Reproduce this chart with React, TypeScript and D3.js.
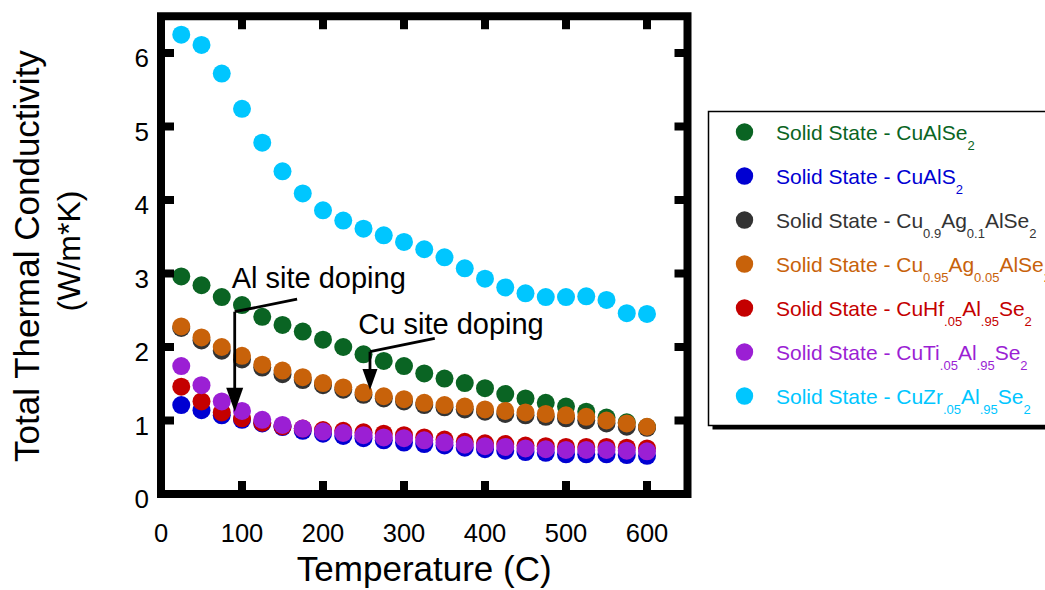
import React, { useEffect } from "react";
import * as d3 from "d3";

// Temperature (C) of each measurement
const temps = [25, 50, 75, 100, 125, 150, 175, 200, 225, 250, 275, 300, 325, 350, 375, 400, 425, 450, 475, 500, 525, 550, 575, 600];

// Total thermal conductivity (W/m*K) per sample
const cuAlSe2 = [2.96, 2.84, 2.68, 2.57, 2.41, 2.30, 2.21, 2.10, 2.00, 1.90, 1.81, 1.74, 1.64, 1.57, 1.51, 1.44, 1.36, 1.30, 1.24, 1.19, 1.12, 1.04, 0.975, 0.91];
const cuAlS2 = [1.21, 1.14, 1.07, 1.01, 0.96, 0.91, 0.86, 0.82, 0.79, 0.76, 0.73, 0.70, 0.68, 0.66, 0.63, 0.61, 0.59, 0.57, 0.56, 0.54, 0.54, 0.54, 0.53, 0.52];
const cu09Ag01 = [2.26, 2.09, 1.95, 1.83, 1.72, 1.63, 1.55, 1.48, 1.42, 1.35, 1.30, 1.26, 1.21, 1.18, 1.15, 1.12, 1.09, 1.07, 1.05, 1.03, 1.00, 0.96, 0.915, 0.90];
const cu095Ag005 = [2.28, 2.13, 2.00, 1.88, 1.76, 1.68, 1.59, 1.51, 1.45, 1.38, 1.33, 1.29, 1.24, 1.21, 1.19, 1.15, 1.13, 1.11, 1.09, 1.07, 1.05, 1.00, 0.96, 0.915];
const cuHf = [1.46, 1.26, 1.11, 1.03, 0.97, 0.92, 0.89, 0.87, 0.86, 0.84, 0.82, 0.80, 0.77, 0.74, 0.71, 0.69, 0.68, 0.66, 0.65, 0.64, 0.64, 0.64, 0.63, 0.62];
const cuTi = [1.74, 1.48, 1.26, 1.13, 1.01, 0.94, 0.89, 0.85, 0.83, 0.80, 0.77, 0.76, 0.73, 0.70, 0.67, 0.65, 0.64, 0.62, 0.61, 0.60, 0.60, 0.60, 0.59, 0.58];
const cuZr = [6.25, 6.11, 5.72, 5.24, 4.78, 4.39, 4.09, 3.86, 3.72, 3.61, 3.52, 3.43, 3.33, 3.22, 3.07, 2.93, 2.81, 2.73, 2.68, 2.68, 2.69, 2.64, 2.46, 2.45];

// Legend labels; _{...} marks a subscript
const seriesLabels = [
  "Solid State - CuAlSe_{2}",
  "Solid State - CuAlS_{2}",
  "Solid State - Cu_{0.9}Ag_{0.1}AlSe_{2}",
  "Solid State - Cu_{0.95}Ag_{0.05}AlSe_{2}",
  "Solid State - CuHf_{.05}Al_{.95}Se_{2}",
  "Solid State - CuTi_{.05}Al_{.95}Se_{2}",
  "Solid State - CuZr_{.05}Al_{.95}Se_{2}",
];
const seriesColors = ["#0a6423", "#0000d2", "#333333", "#c8620a", "#c40000", "#9b1fd4", "#00c6ff"];
const seriesValues = [cuAlSe2, cuAlS2, cu09Ag01, cu095Ag005, cuHf, cuTi, cuZr];

const xTicks = [0, 100, 200, 300, 400, 500, 600];
const yTicks = [0, 1, 2, 3, 4, 5, 6];

const FONT = "'Liberation Sans', Arial, Helvetica, sans-serif";

function parseLabel(label: string) {
  const parts: { text: string; sub: boolean }[] = [];
  const re = /_\{([^}]*)\}/g;
  let last = 0;
  let m: RegExpExecArray | null;
  while ((m = re.exec(label))) {
    if (m.index > last) parts.push({ text: label.slice(last, m.index), sub: false });
    parts.push({ text: m[1], sub: true });
    last = re.lastIndex;
  }
  if (last < label.length) parts.push({ text: label.slice(last), sub: false });
  return parts;
}

export default function App() {
  useEffect(() => {
    document.body.style.margin = "0";
  }, []);

  const W = 1045;
  const H = 590;
  const x = d3.scaleLinear().domain([0, 650]).range([161, 687.5]);
  const y = d3.scaleLinear().domain([0, 6.5]).range([494, 16.25]);
  const [x0, x1] = x.range();
  const [y0, y1] = y.range();
  const tickLen = 13;
  const tickW = 8;
  const r = 9;

  const arrowHead = (tx: number, ty: number, hw: number, hh: number) =>
    `${tx - hw},${ty - hh} ${tx + hw},${ty - hh} ${tx},${ty}`;

  // annotation arrows in data units
  const alArrow = [
    [168, 2.65],
    [91, 2.48],
    [91, 1.12],
  ];
  const cuArrow = [
    [338, 2.118],
    [258, 1.936],
    [258, 1.415],
  ];
  const line = d3
    .line<number[]>()
    .x((d) => x(d[0]))
    .y((d) => y(d[1]));

  const legendX = 708.5;
  const legendY = 111.5;
  const legendW = 345;
  const legendH = 314;
  const rowY0 = 132;
  const rowStep = 44;

  return (
    <svg
      width={W}
      height={H}
      viewBox={`0 0 ${W} ${H}`}
      style={{ position: "absolute", left: 0, top: 0, background: "#fff" }}
      fontFamily={FONT}
    >
      <rect x={0} y={0} width={W} height={H} fill="#fff" />

      {/* data points */}
      {seriesValues.map((vals, si) => (
        <g key={si} fill={seriesColors[si]}>
          {vals.map((v, i) => (
            <circle key={i} cx={x(temps[i])} cy={y(v)} r={r} />
          ))}
        </g>
      ))}

      {/* annotations */}
      <g stroke="#000" strokeWidth={2.8} fill="none">
        <path d={line(alArrow.slice(0, 2))!} />
        <path d={line([alArrow[1], [alArrow[2][0], alArrow[2][1] + 0.3]])!} />
        <path d={line(cuArrow.slice(0, 2))!} />
        <path d={line([cuArrow[1], [cuArrow[2][0], cuArrow[2][1] + 0.28]])!} />
      </g>
      <polygon points={arrowHead(x(alArrow[2][0]), y(alArrow[2][1]), 8.5, 24)} fill="#000" />
      <polygon points={arrowHead(x(cuArrow[2][0]), y(cuArrow[2][1]), 7.5, 21)} fill="#000" />
      <text x={x(87.3)} y={y(2.8)} fontSize={29} fill="#000">Al site doping</text>
      <text x={x(243.6)} y={y(2.177)} fontSize={29} fill="#000">Cu site doping</text>

      {/* frame */}
      <rect x={x0} y={y1} width={x1 - x0} height={y0 - y1} fill="none" stroke="#000" strokeWidth={8} />
      {xTicks.filter((t) => t > 0).map((t) => (
        <g key={`xt${t}`} fill="#000">
          <rect x={x(t) - tickW / 2} y={y0 - tickLen} width={tickW} height={tickLen} />
          <rect x={x(t) - tickW / 2} y={y1} width={tickW} height={tickLen} />
        </g>
      ))}
      {yTicks.filter((t) => t > 0).map((t) => (
        <g key={`yt${t}`} fill="#000">
          <rect x={x0} y={y(t) - tickW / 2} width={tickLen} height={tickW} />
          <rect x={x1 - tickLen} y={y(t) - tickW / 2} width={tickLen} height={tickW} />
        </g>
      ))}

      {/* tick labels */}
      {xTicks.map((t) => (
        <text key={`xl${t}`} x={x(t)} y={542} fontSize={25.5} textAnchor="middle" fill="#000">
          {t}
        </text>
      ))}
      {yTicks.map((t) => (
        <text key={`yl${t}`} x={149} y={y(t) + 14} fontSize={26} textAnchor="end" fill="#000">
          {t}
        </text>
      ))}

      {/* axis titles */}
      <text x={(x0 + x1) / 2} y={581} fontSize={35} textAnchor="middle" fill="#000">
        Temperature (C)
      </text>
      <text transform="translate(39,256) rotate(-90)" fontSize={35} textAnchor="middle" fill="#000">
        Total Thermal Conductivity
      </text>
      <text transform="translate(80,251) rotate(-90)" fontSize={32} textAnchor="middle" fill="#000">
        (W/m*K)
      </text>

      {/* legend */}
      <rect x={legendX + 4} y={legendY + 4} width={legendW} height={legendH} fill="#000" />
      <rect x={legendX} y={legendY} width={legendW} height={legendH} fill="#fff" stroke="#000" strokeWidth={1.5} />
      {seriesLabels.map((lab, i) => {
        const cy = rowY0 + i * rowStep;
        const parts = parseLabel(lab);
        return (
          <g key={`lg${i}`}>
            <circle cx={744.5} cy={cy} r={8.7} fill={seriesColors[i]} />
            <text x={776} y={cy + 7.5} fontSize={21} fill={seriesColors[i]}>
              {parts.map((p, j) => {
                const prevSub = j > 0 && parts[j - 1].sub;
                const dy = p.sub ? (prevSub ? 0 : 10.5) : prevSub ? -10.5 : 0;
                return (
                  <tspan key={j} dy={dy} fontSize={p.sub ? 13 : 21}>
                    {p.text}
                  </tspan>
                );
              })}
            </text>
          </g>
        );
      })}
    </svg>
  );
}
